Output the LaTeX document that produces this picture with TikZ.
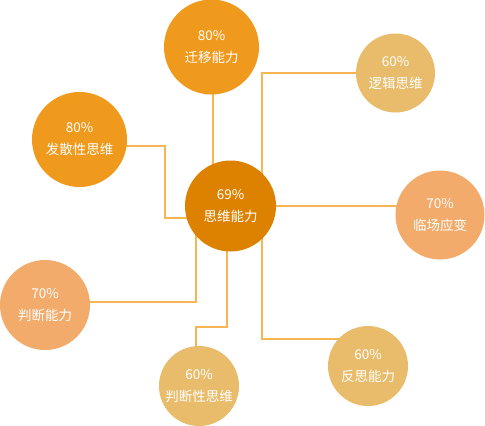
\documentclass[tikz,border=0pt]{standalone}
\usepackage{fontspec}
\setmainfont{Noto Sans CJK SC}
\usetikzlibrary{backgrounds}
\definecolor{cmain}{HTML}{DD8200}
\definecolor{cdark}{HTML}{EF9A1C}
\definecolor{clight}{HTML}{E8BC6A}
\definecolor{cpeach}{HTML}{F2AB6A}
\definecolor{clink}{HTML}{F9B554}
\tikzset{
  bubble/.style={circle, inner sep=0pt, text=white, align=center,
    font=\fontsize{13.5}{22}\selectfont},
  link/.style={draw=clink, line width=1.8pt},
}
\begin{document}
\begin{tikzpicture}[x=1pt,y=-1pt]
\useasboundingbox (0,0) rectangle (485,426);
% nodes
\node[bubble, fill=cmain,  minimum size=91pt] (c) at (230.5,206) {69\%\\思维能力};
\node[bubble, fill=cdark,  minimum size=95pt] (q) at (211.5,47) {80\%\\迁移能力};
\node[bubble, fill=clight, minimum size=79pt] (l) at (395.5,73) {60\%\\逻辑思维};
\node[bubble, fill=cdark,  minimum size=95pt] (d) at (79.5,139.5) {80\%\\发散性思维};
\node[bubble, fill=cpeach, minimum size=89pt] (r) at (440,215) {70\%\\临场应变};
\node[bubble, fill=cpeach, minimum size=90pt] (j) at (45,305) {70\%\\判断能力};
\node[bubble, fill=clight, minimum size=80pt] (p) at (199,386) {60\%\\判断性思维};
\node[bubble, fill=clight, minimum size=80pt] (f) at (368,366) {60\%\\反思能力};
% bend points
\coordinate (kq) at (213,47);
\coordinate (kl) at (262,73);
\coordinate (kf) at (262,339);
\coordinate (kpa) at (196,327);
\coordinate (kpb) at (227,327);
\coordinate (kj) at (196,302);
\coordinate (kda) at (165,146);
\coordinate (kdb) at (165,218);
\begin{pgfonlayer}{background}
\draw[link] (kq) -- (kq |- c.center);
\draw[link] (l.center) -- (kl) -- (kl |- c.center);
\draw[link] (c.center) -- (c.center -| r.center);
\draw[link] (kf |- c.center) -- (kf) -- (kf -| f.center);
\draw[link] (p.center -| kpa) -- (kpa) -- (kpb) -- (kpb |- c.center);
\draw[link] (kj -| j.center) -- (kj) -- (kj |- c.center);
\draw[link] (kda -| d.center) -- (kda) -- (kdb) -- (kdb -| c.center);
\end{pgfonlayer}
\end{tikzpicture}
\end{document}
